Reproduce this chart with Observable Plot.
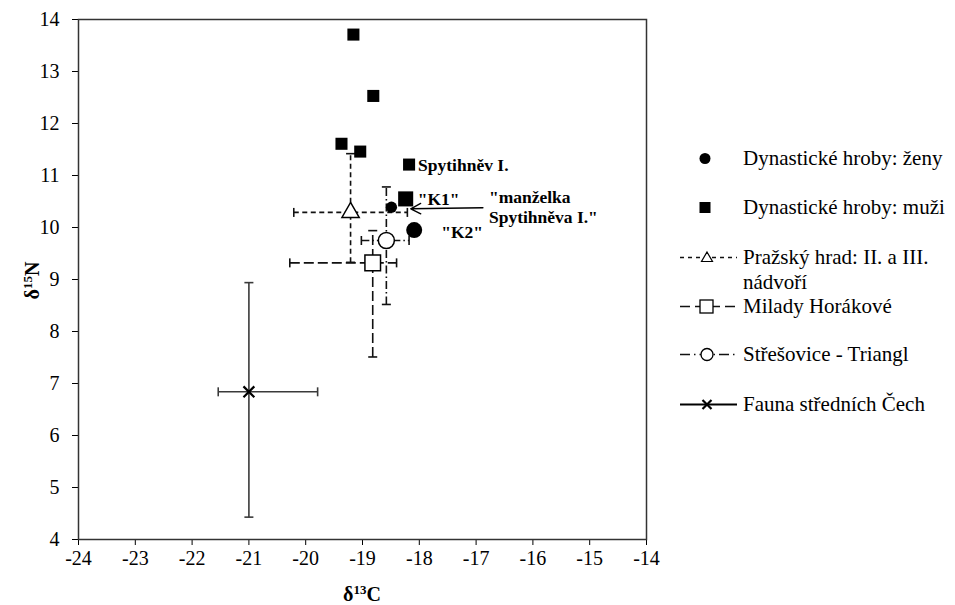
<!DOCTYPE html>
<html><head><meta charset="utf-8">
<script src="https://cdn.jsdelivr.net/npm/d3@7"></script>
<script src="https://cdn.jsdelivr.net/npm/@observablehq/plot@0.6"></script>
<style>
html,body{margin:0;padding:0;background:#fff;}
#wrap{position:relative;width:955px;height:605px;font-family:"Liberation Serif","Times New Roman",serif;color:#000;overflow:hidden;background:#fff}
#wrap > svg{position:absolute;left:0;top:0}
#wrap svg text{font-family:"Liberation Serif","Times New Roman",serif !important}
.ttl{position:absolute;font-weight:bold;font-size:20px;white-space:nowrap;line-height:20px}
.ttl sup{font-size:13px;vertical-align:0;position:relative;top:-7px}
.leg{position:absolute;left:672px;font-size:21px;line-height:25px;white-space:nowrap;display:flex;align-items:flex-start}
.leg svg{flex:none;width:68px;height:25px}
.leg span{margin-left:3px}
</style></head><body><div id="wrap"></div>
<script>
// ---- data ----
const xTicks = [-24, -23, -22, -21, -20, -19, -18, -17, -16, -15, -14];
const yTicks = [4, 5, 6, 7, 8, 9, 10, 11, 12, 13, 14];

const menX = [-19.16, -18.81, -19.37, -19.04, -18.18, -18.24];
const menY = [13.71, 12.53, 11.61, 11.46, 11.21, 10.55];
const menLabel = ["", "", "", "", "Spytihněv I.", "\"K1\""];

const womenX = [-18.49, -18.09];
const womenY = [10.39, 9.95];
const womenLabel = ["", "\"K2\""];

const groupNames = ["Pražský hrad: II. a III. nádvoří", "Milady Horákové", "Střešovice - Triangl", "Fauna středních Čech"];
const groupX    = [-19.21, -18.82, -18.58, -21.00];
const groupY    = [10.29, 9.32, 9.75, 6.84];
const groupXMin = [-20.21, -20.28, -19.02, -21.54];
const groupXMax = [-18.21, -18.40, -18.18, -19.79];
const groupYMin = [9.33, 7.51, 8.52, 4.43];
const groupYMax = [11.42, 9.94, 10.78, 8.94];

const legendLabels = ["Dynastické hroby: ženy", "Dynastické hroby: muži", "Pražský hrad: II. a III.<br>nádvoří", "Milady Horákové", "Střešovice - Triangl", "Fauna středních Čech"];

const noteText = ["\"manželka\nSpytihněva I.\""];
const noteX = [-16.88];
const noteY = [10.38];
const noteTargetX = [-18.15];
const noteTargetY = [10.36];

// ---- tables ----
const men = menX.map((x, i) => ({x, y: menY[i], label: menLabel[i]}));
const women = womenX.map((x, i) => ({x, y: womenY[i], label: womenLabel[i]}));
const groups = groupNames.map((name, i) => ({name, x: groupX[i], y: groupY[i], xmin: groupXMin[i], xmax: groupXMax[i], ymin: groupYMin[i], ymax: groupYMax[i]}));
const notes = noteText.map((t, i) => ({text: t, x: noteX[i], y: noteY[i], tx: noteTargetX[i], ty: noteTargetY[i]}));

// ---- styles ----
const lineColor = "#111";
const serif = "'Liberation Serif', 'Times New Roman', serif";
const groupStyles = [
  {dash: "5,3.5", symbol: "triangle", r: 6.4, stroke: lineColor, width: 1.6},
  {dash: "10,4", symbol: "square", r: 8.8, stroke: lineColor, width: 1.6},
  {dash: "8,3,1.5,3", symbol: "circle", r: 8, stroke: lineColor, width: 1.6},
  {dash: null, symbol: "times", r: 5, stroke: "#3a3a3a", width: 1.6}
];
const capV = {draw(ctx, size) { const h = Math.sqrt(size / Math.PI); ctx.moveTo(0, -h); ctx.lineTo(0, h); }};
const capH = {draw(ctx, size) { const h = Math.sqrt(size / Math.PI); ctx.moveTo(-h, 0); ctx.lineTo(h, 0); }};

const marks = [];
groups.forEach((g, i) => {
  const s = groupStyles[i];
  const ls = {stroke: s.stroke, strokeWidth: s.width};
  if (s.dash) ls.strokeDasharray = s.dash;
  marks.push(Plot.link([g], {x1: "xmin", x2: "xmax", y1: "y", y2: "y", ...ls}));
  marks.push(Plot.link([g], {x1: "x", x2: "x", y1: "ymin", y2: "ymax", ...ls}));
  const cs = {stroke: s.stroke, strokeWidth: s.width, fill: "none", r: 4.5};
  marks.push(Plot.dot([g], {x: "xmin", y: "y", symbol: capV, ...cs}));
  marks.push(Plot.dot([g], {x: "xmax", y: "y", symbol: capV, ...cs}));
  marks.push(Plot.dot([g], {x: "x", y: "ymin", symbol: capH, ...cs}));
  marks.push(Plot.dot([g], {x: "x", y: "ymax", symbol: capH, ...cs}));
});
groups.forEach((g, i) => {
  const s = groupStyles[i];
  if (s.symbol === "times") {
    marks.push(Plot.dot([g], {x: "x", y: "y", symbol: "times", r: s.r, stroke: "#000", strokeWidth: 2.2}));
  } else {
    marks.push(Plot.dot([g], {x: "x", y: "y", symbol: s.symbol, r: s.r, fill: "#fff", stroke: "#000", strokeWidth: 1.5}));
  }
});
const isK1 = d => d.label === "\"K1\"";
const isK2 = d => d.label === "\"K2\"";
const lab = {textAnchor: "start", fontWeight: "bold", fontSize: 17.5, fill: "#000", fontFamily: serif};
marks.push(
  Plot.dot(men, {filter: d => !isK1(d), x: "x", y: "y", symbol: "square", r: 6.8, fill: "#000"}),
  Plot.dot(men, {filter: isK1, x: "x", y: "y", symbol: "square", r: 8.5, fill: "#000"}),
  Plot.dot(women, {filter: d => !isK2(d), x: "x", y: "y", symbol: "circle", r: 5.6, fill: "#000"}),
  Plot.dot(women, {filter: isK2, x: "x", y: "y", symbol: "circle", r: 8, fill: "#000"}),
  Plot.text(men, {filter: d => d.label && !isK1(d), x: "x", y: "y", text: "label", dx: 9, dy: 1, ...lab}),
  Plot.text(men, {filter: isK1, x: "x", y: "y", text: "label", dx: 12, dy: 0, ...lab}),
  Plot.text(women, {filter: isK2, x: "x", y: "y", text: "label", dx: 27, dy: 2, ...lab}),
  Plot.arrow(notes, {x1: "x", y1: "y", x2: "tx", y2: "ty", bend: 0, headLength: 12, headAngle: 55, stroke: "#000", strokeWidth: 1.4}),
  Plot.text(notes, {x: "x", y: "y", text: "text", lineAnchor: "middle", lineHeight: 1.15, dx: 6, dy: -1, ...lab}),
  Plot.frame({stroke: "#333", strokeWidth: 1.5})
);

const chart = Plot.plot({
  width: 955, height: 605,
  marginLeft: 78, marginRight: 309, marginTop: 19, marginBottom: 66,
  style: {fontFamily: serif, fontSize: "20px", color: "#000", background: "#fff", overflow: "visible"},
  x: {domain: [-24, -14], ticks: xTicks, tickSize: 6, tickPadding: 5, label: null, tickFormat: d => String(d)},
  y: {domain: [4, 14], ticks: yTicks, tickSize: 6, tickPadding: 13, label: null, tickFormat: d => String(d)},
  marks
});
const wrap = document.getElementById("wrap");
wrap.appendChild(chart);

// axis titles
const xt = document.createElement("div");
xt.className = "ttl";
xt.innerHTML = "δ<sup>13</sup>C";
wrap.appendChild(xt);
xt.style.left = (362 - xt.offsetWidth / 2) + "px";
xt.style.top = "584px";
const yt = document.createElement("div");
yt.className = "ttl";
yt.innerHTML = "δ<sup>15</sup>N";
wrap.appendChild(yt);
yt.style.left = (34 - yt.offsetWidth / 2) + "px";
yt.style.top = (279 - 10) + "px";
yt.style.transform = "rotate(-90deg)";

// legend
const legendTops = [158, 207, 257, 306, 354, 404];
const legendSym = [
  `<circle cx="33" cy="12.5" r="5.5" fill="#000"/>`,
  `<rect x="27.5" y="7" width="11" height="11" fill="#000"/>`,
  `<line x1="8" x2="65" y1="12.5" y2="12.5" stroke="${lineColor}" stroke-width="1.4" stroke-dasharray="4,4"/><path d="M35,7 L40.5,16.5 L29.5,16.5 Z" fill="#fff" stroke="#000" stroke-width="1.2"/>`,
  `<line x1="8" x2="65" y1="12.5" y2="12.5" stroke="${lineColor}" stroke-width="1.4" stroke-dasharray="10,5"/><rect x="28" y="6" width="13" height="13" fill="#fff" stroke="#000" stroke-width="1.3"/>`,
  `<line x1="8" x2="65" y1="12.5" y2="12.5" stroke="${lineColor}" stroke-width="1.4" stroke-dasharray="10,4,1.5,4"/><circle cx="35" cy="12.5" r="6" fill="#fff" stroke="#000" stroke-width="1.3"/>`,
  `<line x1="8" x2="65" y1="12.5" y2="12.5" stroke="#000" stroke-width="2"/><path d="M30.5,8 L39.5,17 M39.5,8 L30.5,17" stroke="#000" stroke-width="2.2"/>`
];
legendLabels.forEach((l, i) => {
  const d = document.createElement("div");
  d.className = "leg";
  d.style.top = (legendTops[i] - 12.5) + "px";
  d.innerHTML = `<svg viewBox="0 0 68 25">${legendSym[i]}</svg><span>${l}</span>`;
  wrap.appendChild(d);
});
</script></body></html>
